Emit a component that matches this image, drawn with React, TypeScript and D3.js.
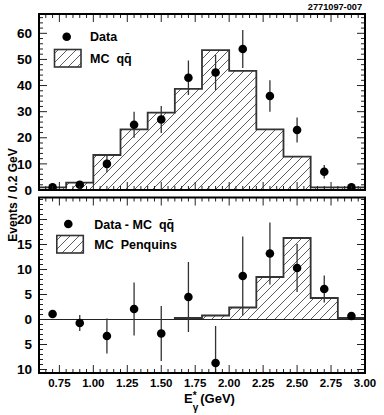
import React, { useRef, useEffect } from 'react'
import * as d3 from 'd3'

// bin centres (GeV), 0.2 GeV wide bins
const binCenters = [0.7, 0.9, 1.1, 1.3, 1.5, 1.7, 1.9, 2.1, 2.3, 2.5, 2.7, 2.9]

// top panel
const dataEvents = [1, 2, 10, 25, 27, 43, 45, 54, 36, 23, 7, 1]
const dataErrors = [1, 1.4, 3.2, 5, 5.2, 6.6, 6.7, 7.3, 6, 4.8, 2.6, 1]
const mcQQbar = [1, 2.8, 13.4, 23.2, 29.6, 38.7, 53.6, 45.6, 23.2, 12.8, 1, 1]

// bottom panel
const diffEvents = [1.1, -0.7, -3.3, 2.1, -2.8, 4.5, -8.7, 8.7, 13.2, 10.3, 6.1, 0.7]
const diffErrors = [0, 1.6, 3.5, 5.3, 5.5, 7, 7.4, 7.9, 6.2, 4.8, 2.7, 0.4]
const mcPenguins = [0, 0, 0, 0, 0, 0.3, 0.8, 2.4, 8.5, 16.3, 4.3, 0.3]

const xTickValues = [0.75, 1.0, 1.25, 1.5, 1.75, 2.0, 2.25, 2.5, 2.75, 3.0]
const topYTicks = [0, 10, 20, 30, 40, 50, 60]
const bottomYTicks = [20, 15, 10, 5, 0, -5, -10]

const FONT = '"Liberation Sans", Arial, Helvetica, sans-serif'
const INK = '#222'

function App() {
  const chartRef = useRef(null)

  useEffect(() => {
    const width = 384
    const height = 415
    const left = 39
    const right = 365

    const container = d3.select(chartRef.current)
    container.html('')

    const svg = container.append('svg')
      .attr('width', width)
      .attr('height', height)
      .style('display', 'block')
      .style('font-family', FONT)
      .style('font-weight', 'bold')

    svg.append('rect').attr('width', width).attr('height', height).attr('fill', '#fff')

    const defs = svg.append('defs')
    const pat = defs.append('pattern')
      .attr('id', 'hatch')
      .attr('patternUnits', 'userSpaceOnUse')
      .attr('width', 9)
      .attr('height', 9)
    pat.append('rect').attr('width', 9).attr('height', 9).attr('fill', '#fff')
    pat.append('path')
      .attr('d', 'M-1,1 l2,-2 M0,9 l9,-9 M8,10 l2,-2')
      .attr('stroke', '#333')
      .attr('stroke-width', 0.8)

    const x = d3.scaleLinear().domain([0.6, 3.0]).range([left, right])

    function drawPanel(opts) {
      const { top, bottom, domain, majorStep, minorStep, yTicks, hist, histFrom,
        points, errors, legend, zeroLine, clipId } = opts
      const y = d3.scaleLinear().domain(domain).range([bottom, top])

      defs.append('clipPath').attr('id', clipId)
        .append('rect')
        .attr('x', left).attr('y', top)
        .attr('width', right - left).attr('height', bottom - top)

      const g = svg.append('g').attr('clip-path', `url(#${clipId})`)

      // histogram outline as steps
      const pts = []
      binCenters.forEach((c, i) => {
        if (i < histFrom) return
        const lo = c - 0.1
        const hi = c + 0.1
        if (pts.length === 0) pts.push([x(lo), y(0)])
        pts.push([x(lo), y(hist[i])])
        pts.push([x(hi), y(hist[i])])
      })
      pts.push([pts[pts.length - 1][0], y(0)])
      const line = d3.line()
      g.append('path')
        .attr('d', line(pts) + 'Z')
        .attr('fill', 'url(#hatch)')
        .attr('stroke', 'none')
      g.append('path')
        .attr('d', line(pts))
        .attr('fill', 'none')
        .attr('stroke', '#333')
        .attr('stroke-width', 1.8)

      if (zeroLine) {
        g.append('line')
          .attr('x1', left).attr('x2', right)
          .attr('y1', y(0)).attr('y2', y(0))
          .attr('stroke', INK)
          .attr('stroke-width', 1.2)
      }

      // data points with errors
      binCenters.forEach((c, i) => {
        if (errors[i] > 0) {
          g.append('line')
            .attr('x1', x(c)).attr('x2', x(c))
            .attr('y1', y(points[i] - errors[i]))
            .attr('y2', y(points[i] + errors[i]))
            .attr('stroke', '#333')
            .attr('stroke-width', 1.3)
        }
        g.append('circle')
          .attr('cx', x(c)).attr('cy', y(points[i]))
          .attr('r', 4.3)
          .attr('fill', '#000')
      })

      // ticks, x (top and bottom, inward)
      const xt = svg.append('g').attr('stroke', INK).attr('stroke-width', 1)
      d3.range(0, 49).forEach(k => {
        const v = 0.6 + k * 0.05
        const major = Math.abs(v / 0.25 - Math.round(v / 0.25)) < 1e-6
        const len = major ? 8 : 4
        xt.append('line').attr('x1', x(v)).attr('x2', x(v)).attr('y1', bottom).attr('y2', bottom - len)
        xt.append('line').attr('x1', x(v)).attr('x2', x(v)).attr('y1', top).attr('y2', top + len)
      })

      // ticks, y (left and right, inward)
      const [d0, d1] = domain
      const first = Math.ceil(d0 / minorStep) * minorStep
      const nMinor = Math.floor((d1 - first) / minorStep + 1e-6)
      d3.range(0, nMinor + 1).forEach(k => {
        const v = first + k * minorStep
        const major = Math.abs(v / majorStep - Math.round(v / majorStep)) < 1e-6
        const len = major ? 8 : 4
        xt.append('line').attr('x1', left).attr('x2', left + len).attr('y1', y(v)).attr('y2', y(v))
        xt.append('line').attr('x1', right).attr('x2', right - len).attr('y1', y(v)).attr('y2', y(v))
      })

      // y tick labels (negative values shown without sign, as in the original)
      svg.append('g').selectAll('text')
        .data(yTicks)
        .enter().append('text')
        .attr('x', 32)
        .attr('y', d => y(d) + 4.7)
        .attr('text-anchor', 'end')
        .attr('font-size', 13.5)
        .attr('fill', '#000')
        .text(d => String(Math.abs(d)))

      // frame
      svg.append('rect')
        .attr('x', left).attr('y', top)
        .attr('width', right - left).attr('height', bottom - top)
        .attr('fill', 'none')
        .attr('stroke', '#000')
        .attr('stroke-width', 2)

      // legend
      const lg = svg.append('g')
      lg.append('circle')
        .attr('cx', legend.cx).attr('cy', legend.cy)
        .attr('r', 4.3).attr('fill', '#000')
      lg.append('text')
        .attr('x', legend.tx).attr('y', legend.cy + 4.5)
        .attr('font-size', 12.5)
        .attr('xml:space', 'preserve')
        .text(legend.label1)
      lg.append('rect')
        .attr('x', legend.bx).attr('y', legend.by)
        .attr('width', 26.5).attr('height', 17.5)
        .attr('fill', 'url(#hatch)')
        .attr('stroke', '#333')
        .attr('stroke-width', 1.6)
      lg.append('text')
        .attr('x', legend.tx).attr('y', legend.by + 13.3)
        .attr('font-size', 12.5)
        .attr('xml:space', 'preserve')
        .text(legend.label2)
    }

    drawPanel({
      top: 14, bottom: 190, domain: [0, 67.4], majorStep: 10, minorStep: 2,
      yTicks: topYTicks, hist: mcQQbar, histFrom: 0,
      points: dataEvents, errors: dataErrors, zeroLine: false, clipId: 'clipTop',
      legend: { cx: 66.7, cy: 36.7, tx: 90, bx: 54.5, by: 49.5,
        label1: 'Data', label2: 'MC  qq\u0304' }
    })

    drawPanel({
      top: 197.5, bottom: 373, domain: [-10.7, 24.4], majorStep: 5, minorStep: 1,
      yTicks: bottomYTicks, hist: mcPenguins, histFrom: 5,
      points: diffEvents, errors: diffErrors, zeroLine: true, clipId: 'clipBottom',
      legend: { cx: 68.3, cy: 224, tx: 94.3, bx: 56.8, by: 235.5,
        label1: 'Data - MC  qq\u0304', label2: 'MC  Penquins' }
    })

    // x tick labels
    svg.append('g').selectAll('text')
      .data(xTickValues)
      .enter().append('text')
      .attr('x', d => x(d))
      .attr('y', 387)
      .attr('text-anchor', 'middle')
      .attr('font-size', 11.5)
      .text(d => d.toFixed(2))

    // x axis title: E*_gamma (GeV)
    const xl = svg.append('text').attr('x', 184).attr('y', 403).attr('font-size', 13)
    xl.append('tspan').text('E')
    xl.append('tspan').attr('dy', -4).attr('font-size', 10).text('*')
    xl.append('tspan').attr('dx', -3.9).attr('dy', 12).attr('font-size', 10).text('\u03b3')
    xl.append('tspan').attr('dx', 2).attr('dy', -8).text('(GeV)')

    // y axis title
    svg.append('text')
      .attr('transform', 'translate(16.5,195) rotate(-90)')
      .attr('text-anchor', 'middle')
      .attr('font-size', 12)
      .text('Events / 0.2 GeV')

    // figure id
    svg.append('text')
      .attr('x', 362).attr('y', 10)
      .attr('text-anchor', 'end')
      .attr('font-size', 9.2)
      .text('2771097-007')

    return () => {
      svg.remove()
    }
  }, [])

  return (
    <div ref={chartRef} style={{ position: 'absolute', left: 0, top: 0, width: '384px', height: '415px' }}></div>
  )
}

export default App
